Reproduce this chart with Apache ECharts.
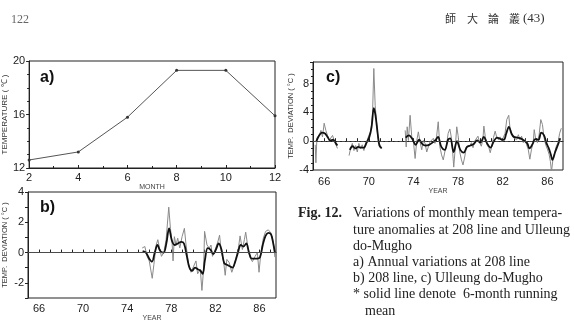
<!DOCTYPE html>
<html>
<head>
<meta charset="utf-8">
<script src="https://cdn.jsdelivr.net/npm/echarts@6/dist/echarts.min.js"></script>
<style>
  html, body { margin: 0; padding: 0; background: #fff; }
  #chart { width: 574px; height: 326px; }
</style>
</head>
<body>
<div id="chart"></div>
<script>
// a) annual variation at 208 line
const aMonth = [2, 4, 6, 8, 10, 12]
const aTemp = [12.6, 13.2, 15.8, 19.3, 19.3, 15.9]

// b) 208 line, monthly anomaly (raw) and 6-month running mean
const bYear = [75.36, 75.6, 75.8, 76.0, 76.27, 76.42, 76.63, 76.78, 76.93, 77.11, 77.32, 77.53, 77.77, 77.92,
  78.07, 78.16, 78.28, 78.43, 78.58, 78.77, 78.98, 79.19, 79.34, 79.58, 79.79, 80.03, 80.24, 80.39, 80.63,
  80.78, 80.93, 81.02, 81.24, 81.45, 81.6, 81.74, 81.98, 82.22, 82.38, 82.53, 82.74, 82.89, 83.04, 83.25,
  83.49, 83.73, 83.94, 84.09, 84.24, 84.45, 84.63, 84.75, 84.94, 85.15, 85.36, 85.6, 85.81, 85.96, 86.11,
  86.35, 86.56, 86.8, 87.04, 87.26, 87.4]
const bRaw = [0.3, 0.4, -0.25, -0.55, -1.7, -0.8, 0.5, 0.85, 0.3, -0.25, 0.0, 0.85, 3.0, 1.6,
  0.7, -0.55, 1.05, 0.5, 0.95, 0.3, 1.05, 1.6, 0.5, -0.8, -1.3, -0.9, -0.55, -1.4, -1.1,
  -2.5, -1.1, 1.4, 0.5, 0.3, 0.5, -0.25, 0.2, 0.7, 1.15, 0.1, -0.55, -1.5, -0.45, -0.65,
  -1.3, -0.8, -0.15, 0.3, 1.1, 0.2, 0.85, 1.35, 0.4, -0.35, -0.6, -0.25, 0.0, -1.3, -0.15,
  0.95, 1.4, 1.5, 1.3, 0.7, -0.3]
const bMeanYear = [75.4, 75.7, 76.0, 76.25, 76.5, 76.75, 77.0, 77.3, 77.55, 77.8, 78.05, 78.3, 78.6, 78.9,
  79.15, 79.4, 79.65, 79.9, 80.15, 80.4, 80.65, 80.85, 81.05, 81.3, 81.55, 81.8, 82.05, 82.3, 82.55, 82.8,
  83.05, 83.3, 83.55, 83.8, 84.05, 84.3, 84.55, 84.8, 85.05, 85.3, 85.55, 85.8, 86.05, 86.3, 86.55, 86.8,
  87.05, 87.25, 87.4]
const bMean = [0.1, 0.0, -0.4, -0.6, 0.0, 0.5, 0.1, 0.0, 0.6, 1.6, 0.8, 0.5, 0.6, 0.7,
  0.6, -0.2, -1.0, -1.2, -1.0, -1.1, -1.2, -1.4, -0.5, 0.3, 0.2, -0.1, 0.2, 0.6, 0.2, -0.7,
  -0.8, -0.9, -1.0, -0.6, 0.0, 0.5, 0.4, 0.6, 0.0, -0.4, -0.4, -0.4, -0.3, 0.5, 1.1, 1.3,
  1.2, 0.6, 0.0]

// c) Ulleung do-Mugho (null = no observations)
const cYear = [65.2, 65.26, 65.35, 65.56, 65.71, 65.85, 66.0, 66.15, 66.3, 66.45, 66.6, 66.75, 66.9, 67.05, 67.19,
  67.7,
  68.23, 68.37, 68.52, 68.67, 68.82, 68.97, 69.11, 69.26, 69.41, 69.56, 69.71, 69.85, 70.0, 70.15, 70.24,
  70.33, 70.45, 70.57, 70.69, 70.8, 70.92, 71.04, 71.15,
  72.2,
  73.26, 73.35, 73.44, 73.55, 73.7, 73.85, 74.0, 74.15, 74.3, 74.44, 74.59, 74.74, 74.89, 75.04, 75.19,
  75.33, 75.48, 75.63, 75.78, 75.93, 76.07, 76.22, 76.37, 76.52, 76.67, 76.81, 76.96, 77.11, 77.26, 77.41,
  77.5, 77.61, 77.76, 77.88, 78.0, 78.15, 78.3, 78.44, 78.59, 78.74, 78.89, 79.04, 79.19, 79.34, 79.48,
  79.63, 79.78, 79.93, 80.08, 80.22, 80.31, 80.43, 80.58, 80.76, 80.88, 81.02, 81.17, 81.32, 81.47, 81.62,
  81.77, 81.91, 82.06, 82.21, 82.36, 82.54, 82.65, 82.8, 82.95, 83.1, 83.25, 83.4, 83.54, 83.69, 83.84,
  83.99, 84.14, 84.28, 84.43, 84.58, 84.73, 84.82, 84.96, 85.11, 85.26, 85.41, 85.56, 85.7, 85.85, 86.0,
  86.15, 86.27, 86.37, 86.5, 86.65, 86.8, 86.95, 87.1, 87.25]
const cRaw = [-0.5, -3.0, 0.5, 0.8, 1.5, 0.6, 2.5, 1.5, 0.8, 0.1, -0.1, 0.8, 0.1, -0.1, -1.0,
  null,
  -2.0, -1.0, -0.3, -1.3, -0.6, -1.5, -0.3, -1.0, -0.5, -1.3, -0.3, 0.1, 0.8, 1.3, 2.2,
  3.6, 10.1, 5.0, 2.7, 0.8, -0.3, -0.6, -1.0,
  null,
  1.5, -0.8, 2.0, 0.1, 3.6, 0.6, -0.1, -2.4, 0.1, 1.3, -0.1, -1.2, 0.1, -0.3, -1.5,
  -0.8, -0.1, -0.3, 0.4, -0.3, 0.6, 2.7, -0.8, -1.9, -2.6, -1.5, -0.6, 1.1, 1.7, 0.4,
  -1.2, -3.6, -0.6, 2.0, 0.8, -1.5, -2.6, -3.3, -2.2, -0.8, -0.6, -0.7, -0.2, -0.9, 0.0,
  0.2, 0.7, -0.2, -0.7, 0.2, 2.1, 0.7, -0.5, -0.9, -1.6, -0.7, 0.5, 1.4, 0.5, 0.2,
  0.6, 0.0, 0.2, 1.1, 3.0, 3.6, 1.8, 1.1, 0.5, 0.7, 0.2, 0.9, 0.2, 0.7, -0.2,
  0.2, -0.5, -1.1, -2.5, -1.1, -0.2, 1.6, 0.2, -0.2, 0.9, 3.0, 2.3, 0.5, -0.5, -1.1,
  -1.8, -2.8, -4.2, -2.5, -1.6, -0.7, -0.2, 1.1, 1.8]
const cMeanYear = [65.3, 65.55, 65.8, 66.05, 66.3, 66.55, 66.8, 67.05, 67.19,
  67.7,
  68.3, 68.55, 68.8, 69.05, 69.3, 69.55, 69.8, 70.05, 70.25, 70.45, 70.6, 70.8, 70.95, 71.15,
  72.2,
  73.3, 73.6, 73.9, 74.2, 74.5, 74.8, 75.1, 75.4, 75.7, 76.0, 76.2, 76.5, 76.8, 77.1, 77.3,
  77.6, 77.9, 78.2, 78.5, 78.8, 79.1, 79.4, 79.7, 80.0, 80.3, 80.6, 80.9, 81.2, 81.5, 81.8,
  82.1, 82.3, 82.55, 82.8, 83.0, 83.3, 83.6, 83.9, 84.2, 84.4, 84.7, 84.9, 85.2, 85.45, 85.7,
  85.9, 86.1, 86.3, 86.45, 86.7, 86.95, 87.15]
const cMean = [0.0, 0.8, 1.2, 1.1, 0.6, 0.1, 0.2, -0.3, -0.6,
  null,
  -1.2, -0.7, -1.0, -0.8, -0.9, -0.9, -0.2, 0.6, 2.0, 4.6, 3.6, 1.0, -0.6, -1.0,
  null,
  0.5, 0.8, 0.3, -0.5, 0.2, -0.4, -0.6, -0.5, -0.2, 0.2, 0.6, -0.8, -1.2, 0.2, 0.4,
  -1.5, 0.0, -1.2, -1.6, -0.8, -0.6, -0.4, 0.1, -0.2, 0.6, -0.3, -0.9, 0.0, 0.5, 0.3,
  0.2, 1.0, 2.0, 1.0, 0.6, 0.5, 0.4, 0.1, -0.3, -1.0, -0.3, 0.3, 0.2, 1.2, 0.8,
  -0.2, -0.9, -1.8, -2.6, -1.5, -0.5, 0.4]

const pairs = (xs, ys) => xs.map((x, i) => [x, ys[i] === null ? '-' : ys[i]])

const sans = 'Liberation Sans, Arial, sans-serif'
const serif = 'Liberation Serif, Times New Roman, serif'
const ink = '#222'

function xAxisOf(gridIndex, opts) {
  return Object.assign({
    type: 'value',
    gridIndex,
    nameLocation: 'middle',
    nameTextStyle: { fontFamily: sans, fontSize: 7, color: '#444' },
    axisLine: { show: true, lineStyle: { color: ink, width: 1 } },
    axisTick: { show: true, inside: true, length: 3, lineStyle: { color: ink } },
    axisLabel: { fontFamily: sans, fontSize: 11, color: ink, margin: 4 },
    splitLine: { show: false },
  }, opts)
}

function yAxisOf(gridIndex, opts) {
  return Object.assign({
    type: 'value',
    gridIndex,
    nameLocation: 'middle',
    nameRotate: 90,
    nameTextStyle: { fontFamily: sans, fontSize: 7.5, color: '#333' },
    axisLine: { show: true, lineStyle: { color: ink, width: 1 } },
    axisTick: { show: true, length: 3, lineStyle: { color: ink } },
    axisLabel: { fontFamily: sans, fontSize: 11, color: ink, margin: 4 },
    splitLine: { show: false },
  }, opts)
}

const yearLabel = v => (Math.abs(v - Math.round(v)) < 1e-6 && (Math.round(v) - 66) % 4 === 0 ? String(Math.round(v)) : '')

const zeroLine = (dash) => ({
  silent: true,
  symbol: 'none',
  label: { show: false },
  lineStyle: { color: '#555', width: 0.8, type: dash },
  data: [{ yAxis: 0 }],
})

const capFont = '14px ' + serif

const chart = echarts.init(document.getElementById('chart'))
chart.setOption({
  animation: false,
  backgroundColor: '#fff',
  grid: [
    { left: 27, top: 61, width: 248, height: 107, show: true, borderColor: ink, borderWidth: 1, containLabel: false },
    { left: 27, top: 192, width: 249, height: 106, show: true, borderColor: ink, borderWidth: 1, containLabel: false },
    { left: 313, top: 62, width: 250, height: 108, show: true, borderColor: ink, borderWidth: 1, containLabel: false },
  ],
  xAxis: [
    xAxisOf(0, { min: 2, max: 12, interval: 2, name: 'MONTH', nameGap: 14,
      minorTick: { show: true, splitNumber: 2, length: 2, lineStyle: { color: ink } } }),
    xAxisOf(1, { min: 65, max: 87.5, interval: 1, name: 'YEAR', nameGap: 16,
      axisLabel: { fontFamily: sans, fontSize: 11, color: ink, margin: 5, formatter: yearLabel,
        showMinLabel: false, showMaxLabel: false } }),
    xAxisOf(2, { min: 65, max: 87.4, interval: 1, name: 'YEAR', nameGap: 17,
      axisLabel: { fontFamily: sans, fontSize: 11, color: ink, margin: 6, formatter: yearLabel,
        showMinLabel: false, showMaxLabel: false } }),
  ],
  yAxis: [
    yAxisOf(0, { min: 12, max: 20, interval: 4, name: 'TEMPERATURE ( ℃ )', nameGap: 19,
      nameTextStyle: { fontFamily: sans, fontSize: 8, color: '#333' },
      minorTick: { show: true, splitNumber: 4, length: 2, lineStyle: { color: ink } } }),
    yAxisOf(1, { min: -3, max: 4, interval: 1, name: 'TEMP.  DEVIATION ( °C )', nameGap: 19,
      axisLabel: { fontFamily: sans, fontSize: 11, color: ink, margin: 4,
        formatter: v => (v % 2 === 0 ? String(v) : '') } }),
    yAxisOf(2, { min: -4, max: 11, interval: 4, name: 'TEMP.  DEVIATION ( °C )', nameGap: 18,
      axisLabel: { fontFamily: sans, fontSize: 11, color: ink, margin: 4, showMaxLabel: false },
      minorTick: { show: true, splitNumber: 4, length: 2, lineStyle: { color: ink } } }),
  ],
  series: [
    {
      name: 'annual', type: 'line', xAxisIndex: 0, yAxisIndex: 0,
      data: pairs(aMonth, aTemp),
      symbol: 'circle', symbolSize: 3, showSymbol: true,
      itemStyle: { color: '#333' },
      lineStyle: { color: '#555', width: 1 },
    },
    {
      name: 'b raw', type: 'line', xAxisIndex: 1, yAxisIndex: 1,
      data: pairs(bYear, bRaw), symbol: 'none',
      lineStyle: { color: '#8a8a8a', width: 1 },
      markLine: zeroLine('solid'),
    },
    {
      name: 'b mean', type: 'line', xAxisIndex: 1, yAxisIndex: 1,
      data: pairs(bMeanYear, bMean), symbol: 'none', smooth: 0.35,
      lineStyle: { color: '#111', width: 1.8 },
    },
    {
      name: 'c raw', type: 'line', xAxisIndex: 2, yAxisIndex: 2,
      data: pairs(cYear, cRaw), symbol: 'none', connectNulls: false,
      lineStyle: { color: '#8a8a8a', width: 1 },
      markLine: zeroLine('dashed'),
    },
    {
      name: 'c mean', type: 'line', xAxisIndex: 2, yAxisIndex: 2,
      data: pairs(cMeanYear, cMean), symbol: 'none', smooth: 0.35, connectNulls: false,
      lineStyle: { color: '#111', width: 1.8 },
    },
  ],
  graphic: [
    { type: 'text', left: 11, top: 14, style: { text: '122', font: '12px ' + serif, fill: '#666' } },
    { type: 'text', left: 445, top: 13, style: { text: '師', font: '11px "Noto Sans CJK TC"', fill: '#333' } },
    { type: 'text', left: 467, top: 13, style: { text: '大', font: '11px "Noto Sans CJK TC"', fill: '#333' } },
    { type: 'text', left: 488, top: 13, style: { text: '論', font: '11px "Noto Sans CJK TC"', fill: '#333' } },
    { type: 'text', left: 509, top: 13, style: { text: '叢', font: '11px "Noto Sans CJK TC"', fill: '#333' } },
    { type: 'text', left: 523, top: 12, style: { text: '(43)', font: '13px ' + serif, fill: '#333' } },

    { type: 'text', left: 40, top: 70, style: { text: 'a)', font: 'bold 16px ' + sans, fill: '#111' } },
    { type: 'text', left: 40, top: 200, style: { text: 'b)', font: 'bold 16px ' + sans, fill: '#111' } },
    { type: 'text', left: 326, top: 70, style: { text: 'c)', font: 'bold 16px ' + sans, fill: '#111' } },

    { type: 'text', left: 298, top: 206, style: { text: 'Fig. 12.', font: 'bold 14px ' + serif, fill: '#222' } },
    { type: 'text', left: 353, top: 206, style: { text: 'Variations of monthly mean tempera-', font: capFont, fill: '#222' } },
    { type: 'text', left: 353, top: 223, style: { text: 'ture anomalies at 208 line and Ulleung', font: capFont, fill: '#222' } },
    { type: 'text', left: 353, top: 239, style: { text: 'do-Mugho', font: capFont, fill: '#222' } },
    { type: 'text', left: 353, top: 255, style: { text: 'a) Annual variations at 208 line', font: capFont, fill: '#222' } },
    { type: 'text', left: 353, top: 271, style: { text: 'b) 208 line, c) Ulleung do-Mugho', font: capFont, fill: '#222' } },
    { type: 'text', left: 353, top: 287, style: { text: '* solid line denote  6-month running', font: capFont, fill: '#222' } },
    { type: 'text', left: 365, top: 304, style: { text: 'mean', font: capFont, fill: '#222' } },
  ],
})
</script>
</body>
</html>
